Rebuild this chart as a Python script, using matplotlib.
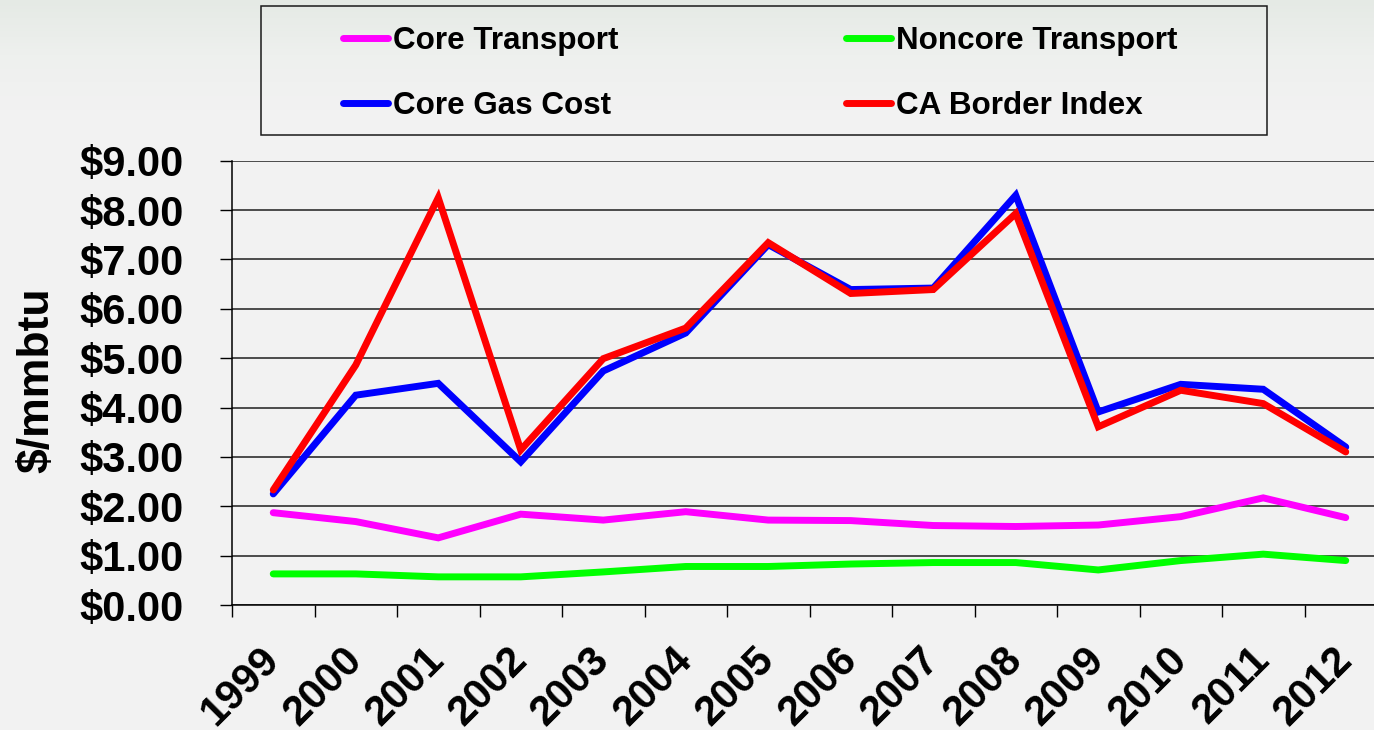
import numpy as np
import matplotlib
matplotlib.use('Agg')
import matplotlib.pyplot as plt
from matplotlib.patches import Rectangle
from matplotlib.colors import LinearSegmentedColormap

# Chart data
years = ['1999', '2000', '2001', '2002', '2003', '2004', '2005',
         '2006', '2007', '2008', '2009', '2010', '2011', '2012']
core_transport = [1.87, 1.69, 1.36, 1.84, 1.72, 1.89, 1.72,
                  1.71, 1.61, 1.59, 1.62, 1.79, 2.17, 1.77]
noncore_transport = [0.63, 0.63, 0.57, 0.57, 0.67, 0.78, 0.78,
                     0.83, 0.86, 0.86, 0.71, 0.90, 1.03, 0.90]
core_gas_cost = [2.25, 4.25, 4.49, 2.90, 4.74, 5.51, 7.30,
                 6.39, 6.42, 8.30, 3.91, 4.47, 4.37, 3.20]
ca_border_index = [2.33, 4.86, 8.25, 3.14, 4.99, 5.61, 7.34,
                   6.31, 6.39, 7.93, 3.61, 4.35, 4.08, 3.10]
y_ticks = np.arange(0, 10, 1)

W, H = 1374, 730
BG = '#f2f2f2'
FONT = 'Liberation Sans'


def add_background(fig):
    # light greenish fade at the top of the slide
    cmap = LinearSegmentedColormap.from_list('bg', ['#e5eae5', '#eef0ee', BG])
    bg_ax = fig.add_axes([0, 1 - 110 / H, 1, 110 / H], zorder=-5)
    grad = np.linspace(0, 1, 256).reshape(-1, 1)
    bg_ax.imshow(grad, aspect='auto', cmap=cmap, extent=[0, 1, 0, 1])
    bg_ax.axis('off')


def draw_lines(ax):
    x = np.arange(len(years))
    series = [
        ('Core Transport', core_transport, '#ff00ff'),
        ('Noncore Transport', noncore_transport, '#00ff00'),
        ('Core Gas Cost', core_gas_cost, '#0000ff'),
        ('CA Border Index', ca_border_index, '#ff0000'),
    ]
    handles = {}
    for name, vals, color in series:
        line, = ax.plot(x, vals, color=color, lw=5.0, label=name,
                        solid_capstyle='round', solid_joinstyle='miter',
                        zorder=3, clip_on=False)
        handles[name] = line
    return handles


def style_axes(ax):
    n = len(years)
    ax.set_xlim(-0.5, n - 0.5)
    ax.set_ylim(0, 9)
    ax.set_facecolor('none')

    # category boundaries get the tick marks, labels sit in the middle
    ax.set_xticks(np.arange(n + 1) - 0.5)
    ax.set_xticklabels([])
    ax.set_xticks(np.arange(n), minor=True)
    ax.set_xticklabels(years, minor=True, rotation=45, ha='right', va='center',
                       rotation_mode='anchor', fontsize=30,
                       fontweight='bold', family=FONT)
    ax.tick_params(axis='x', which='major', direction='out', length=8.6,
                   width=1.0, color='black')
    ax.tick_params(axis='x', which='minor', length=0, pad=35)

    ax.set_yticks(y_ticks)
    ax.set_yticklabels([f'${v:.2f}' for v in y_ticks], fontsize=30,
                       fontweight='bold', family=FONT)
    ax.tick_params(axis='y', direction='out', length=8.6, width=1.0,
                   color='black', pad=26)

    ax.yaxis.grid(True, color='#1e1e1e', lw=1.1, zorder=1)
    ax.set_axisbelow(True)
    for side in ['top', 'right']:
        ax.spines[side].set_visible(False)
    for side in ['left', 'bottom']:
        ax.spines[side].set_color('black')
        ax.spines[side].set_linewidth(1.1)

    ax.set_ylabel('$/mmbtu', fontsize=32, fontweight='bold', family=FONT)
    ax.yaxis.set_label_coords(-0.151, 0.505)


def add_legend(fig, handles):
    # frame drawn by hand so it matches the slide's box
    box = Rectangle((261 / W, 1 - 135 / H), 1006 / W, 129 / H,
                    transform=fig.transFigure, fill=False,
                    edgecolor='#1a1a1a', lw=1.1, zorder=4)
    fig.patches.append(box)

    order = ['Core Transport', 'Core Gas Cost', 'Noncore Transport', 'CA Border Index']
    fig.legend([handles[k] for k in order], order, loc='upper left',
               bbox_to_anchor=(343 / W, 1 - 26 / H), ncol=2, frameon=False,
               borderpad=0, borderaxespad=0, handlelength=1.43,
               handletextpad=0.16, columnspacing=7.26, labelspacing=1.12,
               prop={'family': FONT, 'weight': 'bold', 'size': 22.6})


def main():
    fig = plt.figure(figsize=(W / 100, H / 100), dpi=100, facecolor=BG)
    add_background(fig)

    ax = fig.add_axes([232 / W, 125 / H, 1155 / W, 444.3 / H])
    handles = draw_lines(ax)
    style_axes(ax)
    add_legend(fig, handles)

    fig.savefig('out.png', dpi=100, facecolor=BG)
    print('saved out.png')


if __name__ == '__main__':
    main()
